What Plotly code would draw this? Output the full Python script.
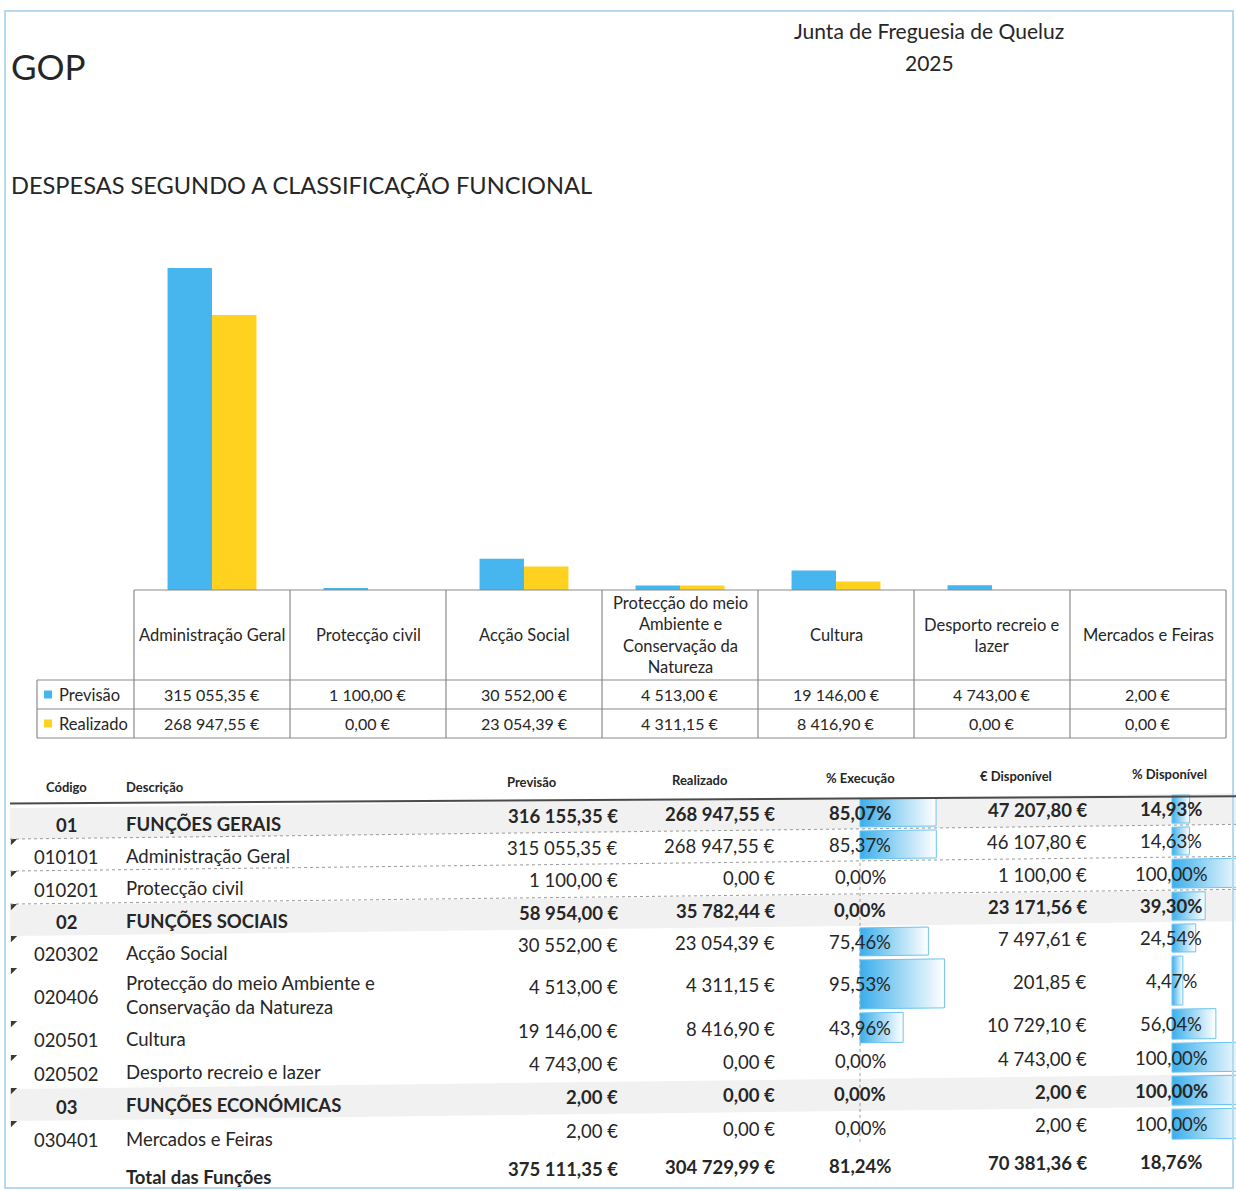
import plotly.graph_objects as go

W, H = 1236, 1191
FONT = "Lato"
TXT = "#262626"

# ---------------- chart data ----------------
categories = ["Administração Geral", "Protecção civil", "Acção Social",
              "Protecção do meio Ambiente e Conservação da Natureza",
              "Cultura", "Desporto recreio e lazer", "Mercados e Feiras"]
category_labels = ["Administração Geral", "Protecção civil", "Acção Social",
                   "Protecção do meio<br>Ambiente e<br>Conservação da<br>Natureza",
                   "Cultura", "Desporto recreio e<br>lazer", "Mercados e Feiras"]
previsao = [315055.35, 1100.00, 30552.00, 4513.00, 19146.00, 4743.00, 2.00]
realizado = [268947.55, 0.00, 23054.39, 4311.15, 8416.90, 0.00, 0.00]
series_names = ["Previsão", "Realizado"]
series_colors = ["#47B5EE", "#FFD21F"]

# ---------------- detail table data ----------------
col_headers = ["Código", "Descrição", "Previsão", "Realizado", "% Execução", "€ Disponível", "% Disponível"]
codes = ["01", "010101", "010201", "02", "020302", "020406", "020501", "020502", "03", "030401", ""]
descs = ["FUNÇÕES GERAIS", "Administração Geral", "Protecção civil", "FUNÇÕES SOCIAIS",
         "Acção Social", "Protecção do meio Ambiente e<br>Conservação da Natureza", "Cultura",
         "Desporto recreio e lazer", "FUNÇÕES ECONÓMICAS", "Mercados e Feiras", "Total das Funções"]
t_prev = [316155.35, 315055.35, 1100.00, 58954.00, 30552.00, 4513.00, 19146.00, 4743.00, 2.00, 2.00, 375111.35]
t_real = [268947.55, 268947.55, 0.00, 35782.44, 23054.39, 4311.15, 8416.90, 0.00, 0.00, 0.00, 304729.99]
t_exec = [85.07, 85.37, 0.00, 0.00, 75.46, 95.53, 43.96, 0.00, 0.00, 0.00, 81.24]
t_disp = [47207.80, 46107.80, 1100.00, 23171.56, 7497.61, 201.85, 10729.10, 4743.00, 2.00, 2.00, 70381.36]
t_pdisp = [14.93, 14.63, 100.00, 39.30, 24.54, 4.47, 56.04, 100.00, 100.00, 100.00, 18.76]
row_kind = ["group", "item", "item", "group", "item", "item", "item", "item", "group", "item", "total"]


def eur(v):
    return f"{v:,.2f}".replace(",", " ").replace(".", ",") + " €"


def pct(v):
    return f"{v:.2f}%".replace(".", ",")


# ---------------- layout geometry (pixels) ----------------
CH_LEFT, CH_COL = 134, 156
CH_BASE, CH_TOP = 590, 222
Y_MAX = 360000
T_HEAD_BOT, T_ROW1_BOT, T_ROW2_BOT = 680, 709, 738
LEG_LEFT = 37

bounds = [800, 832, 864, 897, 929, 961, 1014, 1048, 1081, 1114, 1148, 1188]
SLOPE = 0.012


def ty(x, y):
    return y - SLOPE * (x - 600)


fig = go.Figure()

# main bars
for name, vals, col in zip(series_names, [previsao, realizado], series_colors):
    fig.add_trace(go.Bar(x=categories, y=vals, name=name, marker_color=col,
                         marker_line_width=0, xaxis="x", yaxis="y", showlegend=False,
                         hoverinfo="skip"))

annotations = []
shapes = []


def ann(x, y, text, size, anchor="center", bold=False, color=TXT, yanchor="middle"):
    if bold:
        text = f"<b>{text}</b>"
    annotations.append(dict(x=x, y=y, xref="x2", yref="y2", text=text, showarrow=False,
                            xanchor=anchor, yanchor=yanchor, align=anchor,
                            font=dict(family=FONT, size=size, color=color)))


def line(x0, y0, x1, y1, color="#8a8a8a", width=1.2, dash="solid", tilt=False, slope=SLOPE):
    if tilt:
        y0, y1 = y0 - slope * (x0 - 600), y1 - slope * (x1 - 600)
    shapes.append(dict(type="line", xref="x2", yref="y2", x0=x0, y0=y0, x1=x1, y1=y1,
                       line=dict(color=color, width=width, dash=dash)))


# page frame
shapes.append(dict(type="rect", xref="x2", yref="y2", x0=5, y0=11, x1=1233, y1=1188,
                   line=dict(color="#b3daee", width=2)))

# titles
ann(9, 66, "GOP", 35, anchor="left")
ann(929, 30, "Junta de Freguesia de Queluz", 21)
ann(929, 62, "2025", 21)
ann(9, 185, "DESPESAS SEGUNDO A CLASSIFICAÇÃO FUNCIONAL", 23.6, anchor="left")

# ---------------- chart data table ----------------
n = len(categories)
right = CH_LEFT + CH_COL * n
line(CH_LEFT, CH_BASE, right, CH_BASE)
for yy in [T_HEAD_BOT, T_ROW1_BOT, T_ROW2_BOT]:
    line(LEG_LEFT, yy, right, yy)
line(LEG_LEFT, T_HEAD_BOT, LEG_LEFT, T_ROW2_BOT)
for i in range(n + 1):
    xx = CH_LEFT + CH_COL * i
    line(xx, CH_BASE, xx, T_ROW2_BOT)
for i, lab in enumerate(category_labels):
    cx = CH_LEFT + CH_COL * (i + 0.5)
    ann(cx, (CH_BASE + T_HEAD_BOT) / 2, lab, 16.5)
    ann(cx, (T_HEAD_BOT + T_ROW1_BOT) / 2, eur(previsao[i]), 16)
    ann(cx, (T_ROW1_BOT + T_ROW2_BOT) / 2, eur(realizado[i]), 16)
for k, (name, col) in enumerate(zip(series_names, series_colors)):
    yc = (T_HEAD_BOT + T_ROW1_BOT) / 2 if k == 0 else (T_ROW1_BOT + T_ROW2_BOT) / 2
    shapes.append(dict(type="rect", xref="x2", yref="y2", x0=44, x1=52, y0=yc - 4, y1=yc + 4,
                       fillcolor=col, line=dict(width=0)))
    ann(57, yc, name, 16.5, anchor="left")

# ---------------- detail table ----------------
col_x = [66, 124, 532, 700, 860, 1016, 1169]
for hx, htxt in zip(col_x, col_headers):
    ann(hx, ty(hx, 781), htxt, 13, anchor="left" if htxt == "Descrição" else "center", bold=True)
line(10, 800, 1236, 800, color="#4a4a4a", width=2, tilt=True, slope=0.006)

# shaded group rows
for i, kind in enumerate(row_kind):
    if kind == "group":
        t, b = bounds[i] + 1, bounds[i + 1]
        path = (f"M 10,{ty(10, t)} L 1236,{ty(1236, t)} L 1236,{ty(1236, b)} "
                f"L 10,{ty(10, b)} Z")
        shapes.append(dict(type="path", xref="x2", yref="y2", path=path,
                           fillcolor="#f1f1f1", line=dict(width=0), layer="below"))

# dotted separators
for yy in [bounds[1], bounds[2], bounds[3]]:
    line(10, yy, 1236, yy, color="#9a9a9a", width=1, dash="dot", tilt=True)
line(860, ty(860, bounds[2] + 2), 860, ty(860, bounds[10] - 2), color="#9a9a9a", width=1, dash="dot")

X_EXEC0, X_DISP0 = 860, 1172


def exec_w(p):
    return 8 + 0.8 * p


def disp_w(p):
    return 8 + 0.64 * p


def databar(x0, w, top, bot):
    xs = [x0, x0 + w, x0 + w, x0, x0]
    ys = [ty(x0, top), ty(x0 + w, top), ty(x0 + w, bot), ty(x0, bot), ty(x0, top)]
    fig.add_trace(go.Scatter(x=xs, y=ys, xaxis="x2", yaxis="y2", mode="lines", fill="toself",
                             line=dict(color="#6cc4f0", width=1),
                             fillgradient=dict(type="horizontal",
                                               colorscale=[[0, "#3aaeec"], [0.5, "#9fd8f5"], [1, "#ffffff"]]),
                             showlegend=False, hoverinfo="skip"))


for i, kind in enumerate(row_kind):
    if kind == "total":
        continue
    top, bot = bounds[i] + 2, bounds[i + 1] - 2
    if t_exec[i] > 0:
        databar(X_EXEC0, exec_w(t_exec[i]), top, bot)
    if t_pdisp[i] > 0:
        databar(X_DISP0, disp_w(t_pdisp[i]), top, bot)

for i, kind in enumerate(row_kind):
    yc = (bounds[i] + bounds[i + 1]) / 2
    if kind == "total":
        yc += 1
    bold = kind in ("group", "total")
    if codes[i]:
        ann(66, ty(66, yc + 3), codes[i], 18.5, bold=bold)
    ann(124, ty(124, yc + 2), descs[i], 18.5, anchor="left", bold=bold)
    ann(620, ty(620, yc), eur(t_prev[i]), 18.5, anchor="right", bold=bold)
    ann(777, ty(777, yc), eur(t_real[i]), 18.5, anchor="right", bold=bold)
    ann(860, ty(860, yc), pct(t_exec[i]), 18.5, bold=bold)
    ann(1089, ty(1089, yc), eur(t_disp[i]), 18.5, anchor="right", bold=bold)
    ann(1171, ty(1171, yc), pct(t_pdisp[i]), 18.5, bold=bold)

# comment indicators
tri_x = [13] * 9
tri_y = [ty(13, bounds[i]) + 2 for i in range(1, 10)]
fig.add_trace(go.Scatter(x=tri_x, y=tri_y, xaxis="x2", yaxis="y2", mode="markers",
                         marker=dict(symbol="triangle-nw", size=7, color="#3a3a3a"),
                         showlegend=False, hoverinfo="skip"))

fig.update_layout(
    width=W, height=H, margin=dict(l=0, r=0, t=0, b=0),
    paper_bgcolor="white", plot_bgcolor="rgba(0,0,0,0)",
    barmode="group", bargap=0.43, bargroupgap=0,
    xaxis=dict(domain=[CH_LEFT / W, right / W], range=[-0.5, n - 0.5], visible=False,
               anchor="y"),
    yaxis=dict(domain=[(H - CH_BASE) / H, (H - CH_TOP) / H], range=[0, Y_MAX], visible=False,
               anchor="x"),
    xaxis2=dict(domain=[0, 1], range=[0, W], visible=False, anchor="y2"),
    yaxis2=dict(domain=[0, 1], range=[H, 0], visible=False, anchor="x2"),
    annotations=annotations, shapes=shapes,
    font=dict(family=FONT, color=TXT),
)

fig.write_html("out.html", config={"displayModeBar": False},
               post_script="document.body.style.margin='0';")
